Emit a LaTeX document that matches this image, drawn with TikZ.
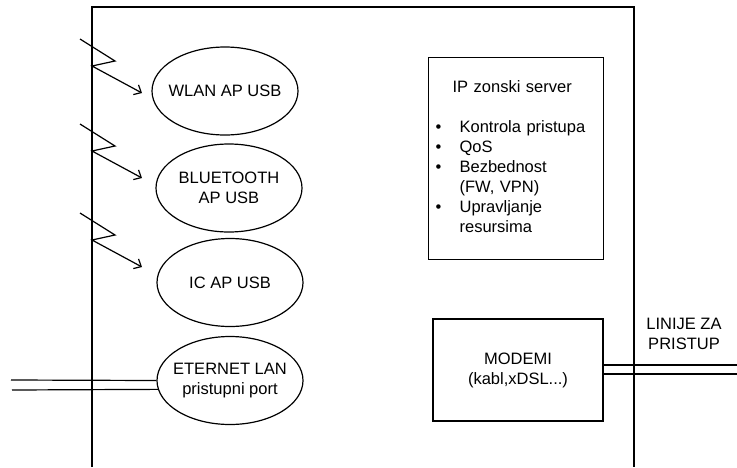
\documentclass[tikz,border=0pt]{standalone}
\usepackage{fontspec}
\setmainfont{Liberation Sans}
\usetikzlibrary{shapes.geometric,arrows.meta}

\tikzset{
	cell/.style={ellipse, draw, line width=1.2pt, minimum width=146pt, minimum height=88pt, inner xsep=-20pt, align=center},
	box/.style={rectangle, draw, line width=1.2pt},
	radio/.style={line width=1.2pt, -{Straight Barb[length=6pt,width=11pt]}},
	wire/.style={line width=1.2pt}
}

\begin{document}
\begin{tikzpicture}[x=1pt, y=-1pt, font=\fontsize{16.5}{20}\selectfont]
			%%%%% START %%%%%
			\useasboundingbox (0,0) rectangle (737,467);
			
			\draw[wire] (92,467) -- (92,7) -- (634,7) -- (634,467);
			
			\node[cell] (wlan) at (225,91) {WLAN AP USB};
			\node[cell] (bt) at (229,188) {BLUETOOTH\\AP USB};
			\node[cell] (ic) at (230,282.5) {IC AP USB};
			\node[cell] (eth) at (230,380.5) {ETERNET LAN\\pristupni port};
			
			\foreach \n/\y in {wlan/93, bt/178, ic/267} {
				\coordinate (\n tip) at (142,\y);
				\draw[radio] (\n tip) ++(-62,-54) -- ++(35,22) -- ++(-23,5) -- (\n tip);
			}
			
			\coordinate (lan1) at (11,380);
			\coordinate (lan2) at (12,390);
			\draw[wire] (lan1) -- (eth.west);
			\draw[wire] (lan2) -- (eth.187);
			
			\node[box, anchor=north west, minimum height=202pt, text width=161pt, inner xsep=7pt, inner ysep=0pt, align=left] (server) at (428,57)
				{\noindent\begin{tabular}{@{}p{24pt}@{}l@{}}
					\multicolumn{2}{@{\hspace*{17pt}}l}{IP zonski server}\\
					\\
					\textbullet & Kontrola pristupa\\
					\textbullet & QoS\\
					\textbullet & Bezbednost\\
					& (FW, VPN)\\
					\textbullet & Upravljanje\\
					& resursima
				\end{tabular}};
			
			\node[box, minimum width=170pt, minimum height=102pt, align=center] (modem) at (518,370) {MODEMI\\(kabl,xDSL...)};
			
			\coordinate (line1) at (737,365);
			\coordinate (line2) at (737,374);
			\draw[wire] (modem.east |- line1) -- (line1);
			\draw[wire] (modem.east |- line2) -- (line2);
			
			\node[align=center] (lines) at (684,334) {LINIJE ZA\\PRISTUP};
			
			%%%%% END %%%%%
\end{tikzpicture}
\end{document}
